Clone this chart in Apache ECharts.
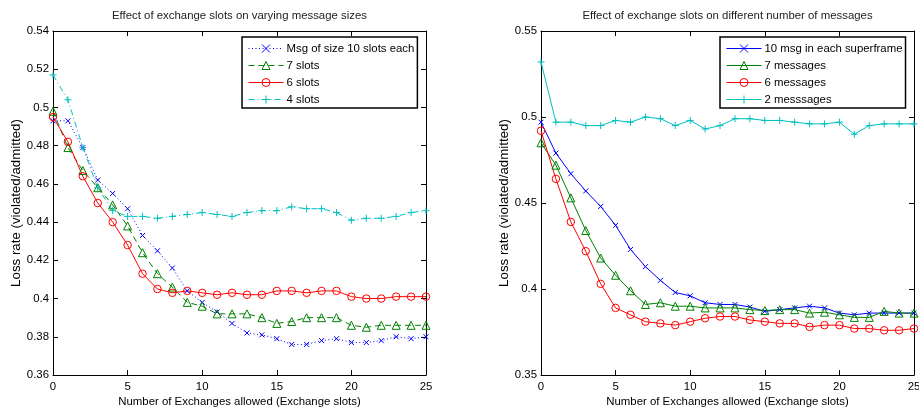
<!DOCTYPE html>
<html><head><meta charset="utf-8">
<script src="https://cdn.jsdelivr.net/npm/echarts/dist/echarts.min.js"></script>
<style>html,body{margin:0;padding:0;background:#fff}#c{width:919px;height:412px}</style>
</head><body><div id="c"></div>
<script>
const xSlots = [0,1,2,3,4,5,6,7,8,9,10,11,12,13,14,15,16,17,18,19,20,21,22,23,24,25];

const leftTitle = 'Effect of exchange slots on varying message sizes';
const leftNames = ['Msg of size 10 slots each', '7 slots', '6 slots', '4 slots'];
const leftSize10 = [0.493,0.493,0.479,0.462,0.455,0.447,0.433,0.425,0.416,0.404,0.398,0.393,0.387,0.382,0.381,0.379,0.376,0.376,0.378,0.379,0.377,0.377,0.378,0.380,0.379,0.380];
const leftSize7  = [0.498,0.479,0.467,0.458,0.449,0.438,0.424,0.413,0.406,0.398,0.396,0.392,0.392,0.392,0.390,0.387,0.388,0.390,0.390,0.390,0.386,0.385,0.386,0.386,0.386,0.386];
const leftSize6  = [0.495,0.482,0.464,0.450,0.440,0.428,0.413,0.405,0.403,0.404,0.403,0.402,0.403,0.402,0.402,0.404,0.404,0.403,0.404,0.404,0.401,0.400,0.400,0.401,0.401,0.401];
const leftSize4  = [0.517,0.504,0.479,0.458,0.446,0.443,0.443,0.442,0.443,0.444,0.445,0.444,0.443,0.445,0.446,0.446,0.448,0.447,0.447,0.445,0.441,0.442,0.442,0.443,0.445,0.446];
const leftYTicks = {min: 0.36, max: 0.54, interval: 0.02};

const rightTitle = 'Effect of exchange slots on different number of messages';
const rightNames = ['10 msg in each superframe', '7 messages', '6 messages', '2 messsages'];
const right10 = [0.497,0.479,0.467,0.457,0.448,0.437,0.423,0.413,0.405,0.398,0.396,0.392,0.391,0.391,0.3895,0.387,0.388,0.389,0.390,0.389,0.386,0.385,0.386,0.386,0.386,0.386];
const right7  = [0.485,0.472,0.453,0.434,0.418,0.408,0.399,0.391,0.392,0.390,0.390,0.389,0.389,0.389,0.388,0.3875,0.388,0.388,0.386,0.3865,0.385,0.3835,0.3835,0.387,0.386,0.386];
const right6  = [0.492,0.464,0.439,0.422,0.403,0.389,0.385,0.381,0.380,0.379,0.381,0.383,0.384,0.384,0.382,0.381,0.380,0.380,0.378,0.379,0.379,0.377,0.377,0.376,0.376,0.377];
const right2  = [0.532,0.497,0.497,0.495,0.495,0.498,0.497,0.500,0.499,0.495,0.498,0.493,0.495,0.499,0.499,0.498,0.498,0.497,0.496,0.496,0.497,0.490,0.495,0.496,0.496,0.496];
const rightYTicks = {min: 0.35, max: 0.55, interval: 0.05};

const xTicks = {min: 0, max: 25, interval: 5};
const xName = 'Number of Exchanges allowed (Exchange slots)';
const yName = 'Loss rate (violated/admitted)';

const FONT = 'Liberation Sans, Arial, Helvetica, sans-serif';
const FS = 11.4;
const SYM = {
  x: 'path://M0,0L10,10M10,0L0,10',
  plus: 'path://M5,0L5,10M0,5L10,5',
  tri: 'path://M5,0L10,9L0,9Z',
  circ: 'path://M0,5A5,5,0,1,0,10,5A5,5,0,1,0,0,5Z'
};
const BLUE = '#0000ff', GREEN = '#008000', RED = '#ff0000', CYAN = '#00bfbf';

function pairs(vals){ return xSlots.map((x,i)=>[x, vals[i]]); }

const leftStyles = [
  {color: BLUE, sym: SYM.x, size: 5, dash: [1, 2.5]},
  {color: GREEN, sym: SYM.tri, size: 8, dash: [6, 4]},
  {color: RED, sym: SYM.circ, size: 7.5, dash: 'solid'},
  {color: CYAN, sym: SYM.plus, size: 7, dash: [6, 3, 1, 3]}
];
const rightStyles = [
  {color: BLUE, sym: SYM.x, size: 5, dash: 'solid'},
  {color: GREEN, sym: SYM.tri, size: 8, dash: 'solid'},
  {color: RED, sym: SYM.circ, size: 7.5, dash: 'solid'},
  {color: CYAN, sym: SYM.plus, size: 7, dash: 'solid'}
];

function mkSeries(name, vals, gi, st){
  return {
    type: 'line', name: name, xAxisIndex: gi*2, yAxisIndex: gi*2,
    data: pairs(vals), symbol: st.sym, symbolSize: st.size, showSymbol: true,
    lineStyle: {color: st.color, width: 1, type: st.dash},
    itemStyle: {color: 'rgba(0,0,0,0)', borderColor: st.color, borderWidth: 1},
    emphasis: {disabled: true}, silent: true, z: 3
  };
}

function axesFor(gi, yt){
  const tickIn = {show: true, inside: true, length: 5, lineStyle: {color: '#000', width: 1}};
  const line = {show: true, onZero: false, lineStyle: {color: '#000', width: 1}};
  const lbl = {color: '#000', fontSize: FS, fontFamily: FONT};
  return {
    x: [
      {type: 'value', gridIndex: gi, position: 'bottom', min: xTicks.min, max: xTicks.max, interval: xTicks.interval,
       axisLine: line, axisTick: tickIn, splitLine: {show: false},
       axisLabel: Object.assign({margin: 6}, lbl),
       name: xName, nameLocation: 'middle', nameGap: 21, nameMoveOverlap: false,
       nameTextStyle: {color: '#000', fontSize: FS, fontFamily: FONT}},
      {type: 'value', gridIndex: gi, position: 'top', min: xTicks.min, max: xTicks.max, interval: xTicks.interval,
       axisLine: line, axisTick: tickIn, splitLine: {show: false}, axisLabel: {show: false}}
    ],
    y: [
      {type: 'value', gridIndex: gi, position: 'left', min: yt.min, max: yt.max, interval: yt.interval,
       axisLine: line, axisTick: tickIn, splitLine: {show: false},
       axisLabel: Object.assign({margin: 4}, lbl),
       name: yName, nameLocation: 'middle', nameGap: 30, nameRotate: 90, nameMoveOverlap: false,
       nameTextStyle: {color: '#000', fontSize: 13.3, fontFamily: FONT}},
      {type: 'value', gridIndex: gi, position: 'right', min: yt.min, max: yt.max, interval: yt.interval,
       axisLine: line, axisTick: tickIn, splitLine: {show: false}, axisLabel: {show: false}}
    ]
  };
}

const a0 = axesFor(0, leftYTicks), a1 = axesFor(1, rightYTicks);

function mkLegend(names, styles, left){
  return {
    data: names.map((n, i) => ({
      name: n,
      lineStyle: {color: styles[i].color, width: 1, type: styles[i].dash},
      itemStyle: {color: 'rgba(0,0,0,0)', borderColor: styles[i].color, borderWidth: 1}
    })),
    orient: 'vertical', left: left, top: 37,
    itemWidth: 35, itemHeight: 10, itemGap: 6.0,
    padding: [6, 3, 3, 6],
    borderColor: '#000', borderWidth: 1.5, backgroundColor: '#fff',
    textStyle: {color: '#000', fontSize: FS, fontFamily: FONT, padding: [0,0,0,-2]},
    selectedMode: false, z: 10
  };
}

const chart = echarts.init(document.getElementById('c'), null, {renderer: 'canvas'});
chart.setOption({
  animation: false,
  backgroundColor: '#fff',
  title: [
    {text: leftTitle, left: 239.5, textAlign: 'center', top: 10, padding: 0, textStyle: {color: '#222', fontSize: FS, fontWeight: 'normal', fontFamily: FONT}},
    {text: rightTitle, left: 727.5, textAlign: 'center', top: 10, padding: 0, textStyle: {color: '#222', fontSize: FS, fontWeight: 'normal', fontFamily: FONT}}
  ],
  grid: [
    {left: 53, top: 31, width: 373, height: 344, containLabel: false, outerBoundsMode: 'none'},
    {left: 541, top: 31, width: 373, height: 344, containLabel: false, outerBoundsMode: 'none'}
  ],
  xAxis: a0.x.concat(a1.x),
  yAxis: a0.y.concat(a1.y),
  legend: [mkLegend(leftNames, leftStyles, 242), mkLegend(rightNames, rightStyles, 720)],
  series: [
    mkSeries(leftNames[0], leftSize10, 0, leftStyles[0]),
    mkSeries(leftNames[1], leftSize7, 0, leftStyles[1]),
    mkSeries(leftNames[2], leftSize6, 0, leftStyles[2]),
    mkSeries(leftNames[3], leftSize4, 0, leftStyles[3]),
    mkSeries(rightNames[0], right10, 1, rightStyles[0]),
    mkSeries(rightNames[1], right7, 1, rightStyles[1]),
    mkSeries(rightNames[2], right6, 1, rightStyles[2]),
    mkSeries(rightNames[3], right2, 1, rightStyles[3])
  ]
});
</script>
</body></html>
